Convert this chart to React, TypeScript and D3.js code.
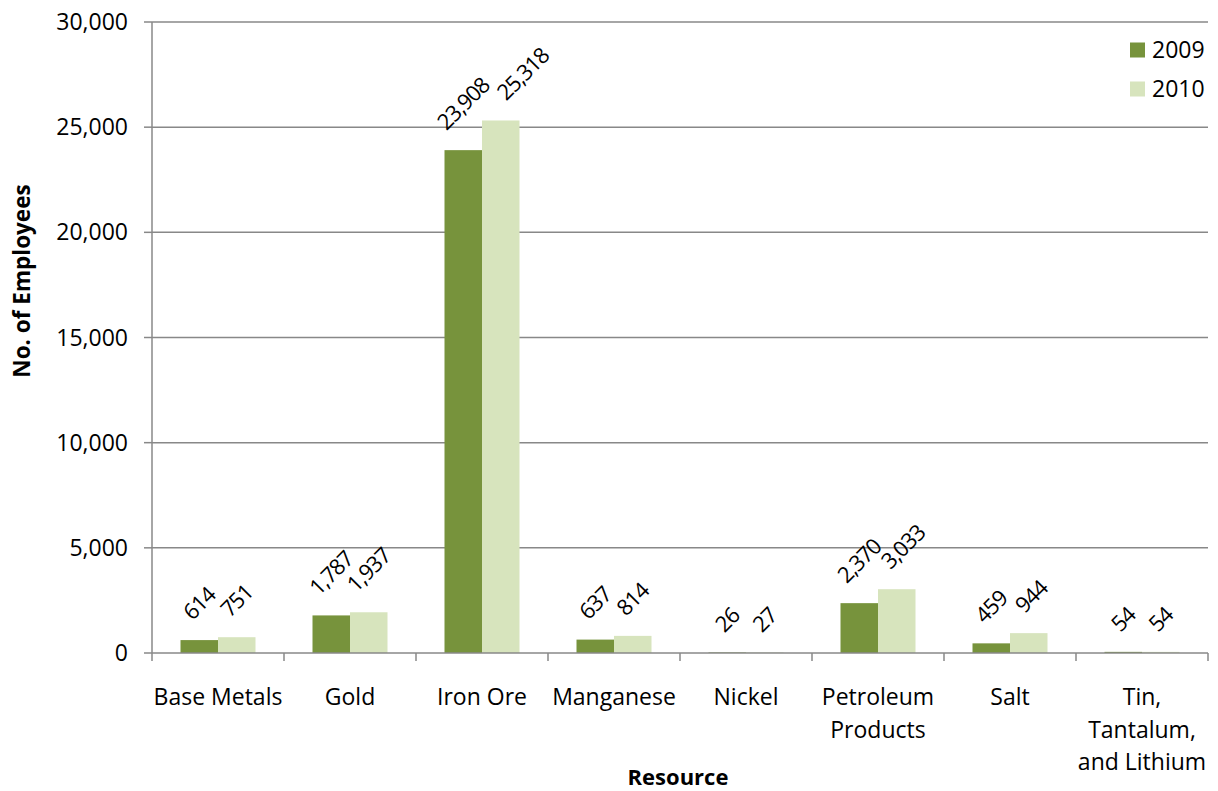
import React, { useEffect, useRef } from "react";
import * as d3 from "d3";

const categories = [
  "Base Metals",
  "Gold",
  "Iron Ore",
  "Manganese",
  "Nickel",
  "Petroleum Products",
  "Salt",
  "Tin, Tantalum, and Lithium",
];
const categoryLines = [
  ["Base Metals"],
  ["Gold"],
  ["Iron Ore"],
  ["Manganese"],
  ["Nickel"],
  ["Petroleum", "Products"],
  ["Salt"],
  ["Tin,", "Tantalum,", "and Lithium"],
];
const seriesNames = ["2009", "2010"];
const values2009 = [614, 1787, 23908, 637, 26, 2370, 459, 54];
const values2010 = [751, 1937, 25318, 814, 27, 3033, 944, 54];
const yTicks = [0, 5000, 10000, 15000, 20000, 25000, 30000];
const colors = ["#77933C", "#D7E4BD"];

const W = 1218;
const H = 791;
const FONT = "'Open Sans', sans-serif";
const FS = 23;

export default function App() {
  const ref = useRef<SVGSVGElement | null>(null);

  useEffect(() => {
    document.body.style.margin = "0";
    const svg = d3.select(ref.current);
    svg.selectAll("*").remove();

    const left = 152, right = 1208, top = 22, bottom = 653;
    const y = d3.scaleLinear().domain([0, 30000]).range([bottom, top]);
    const x0 = d3.scaleBand<string>().domain(categories).range([left, right]).paddingInner(0).paddingOuter(0);
    const x1 = d3.scaleBand<string>().domain(seriesNames).range([0, x0.bandwidth()]).paddingInner(0).paddingOuter(0.76);
    const fmt = d3.format(",");
    const grid = "#888888";

    // gridlines
    svg.append("g").selectAll("line").data(yTicks.filter((t) => t > 0)).join("line")
      .attr("x1", left).attr("x2", right)
      .attr("y1", (d) => y(d)).attr("y2", (d) => y(d))
      .attr("stroke", grid).attr("stroke-width", 1.5);

    // y axis line + ticks
    svg.append("line").attr("x1", left).attr("x2", left).attr("y1", top).attr("y2", bottom)
      .attr("stroke", grid).attr("stroke-width", 1.5);
    svg.append("g").selectAll("line").data(yTicks).join("line")
      .attr("x1", left - 8).attr("x2", left)
      .attr("y1", (d) => y(d)).attr("y2", (d) => y(d))
      .attr("stroke", grid).attr("stroke-width", 1.5);
    svg.append("g").selectAll("text").data(yTicks).join("text")
      .attr("x", 128).attr("y", (d) => y(d)).attr("dy", "0.35em")
      .attr("text-anchor", "end").attr("font-family", FONT).attr("font-size", FS).attr("fill", "#000")
      .text((d) => fmt(d));

    // bars
    const series = [values2009, values2010];
    const gBars = svg.append("g");
    series.forEach((vals, si) => {
      gBars.selectAll(`rect.s${si}`).data(vals).join("rect")
        .attr("class", `s${si}`)
        .attr("x", (_d, i) => (x0(categories[i]) as number) + (x1(seriesNames[si]) as number))
        .attr("width", x1.bandwidth())
        .attr("y", (d) => y(d))
        .attr("height", (d) => bottom - y(d))
        .attr("fill", colors[si]);
    });

    // x axis line + ticks
    svg.append("line").attr("x1", left).attr("x2", right).attr("y1", bottom).attr("y2", bottom)
      .attr("stroke", grid).attr("stroke-width", 1.5);
    const bounds = categories.map((c) => x0(c) as number).concat([right]);
    svg.append("g").selectAll("line").data(bounds).join("line")
      .attr("x1", (d) => d).attr("x2", (d) => d).attr("y1", bottom).attr("y2", bottom + 8)
      .attr("stroke", grid).attr("stroke-width", 1.5);

    // category labels
    categoryLines.forEach((lines, i) => {
      const cx = (x0(categories[i]) as number) + x0.bandwidth() / 2;
      lines.forEach((ln, li) => {
        svg.append("text").attr("x", cx).attr("y", 697 + li * 32.5).attr("dy", "0.35em")
          .attr("text-anchor", "middle").attr("font-family", FONT).attr("font-size", FS).attr("fill", "#000")
          .text(ln);
      });
    });

    // data labels (rotated -45°, shifted right when they would overlap the neighbour)
    const gLab = svg.append("g");
    const LFS = 22;
    const minSum = 30;
    categories.forEach((c, i) => {
      let prevSum: number | null = null;
      series.forEach((vals, si) => {
        const v = vals[i];
        let cx = (x0(c) as number) + (x1(seriesNames[si]) as number) + x1.bandwidth() / 2;
        const t = gLab.append("text")
          .attr("text-anchor", "middle").attr("dy", "0.35em")
          .attr("font-family", FONT).attr("font-size", LFS).attr("letter-spacing", -1).attr("fill", "#000")
          .text(fmt(v));
        const w = (t.node() as SVGTextElement).getComputedTextLength();
        const h = LFS * 0.75;
        const cy = y(v) - 18.5 - (w + h) / (2 * Math.SQRT2);
        if (prevSum !== null && cx + cy - prevSum < minSum) {
          cx += minSum - (cx + cy - prevSum);
        }
        prevSum = cx + cy;
        t.attr("transform", `translate(${cx},${cy}) rotate(-45)`);
      });
    });

    // axis titles
    svg.append("text").attr("transform", `translate(22,281) rotate(-90)`).attr("dy", "0.35em")
      .attr("text-anchor", "middle").attr("font-family", FONT).attr("font-size", 22.5).attr("font-weight", "bold")
      .text("No. of Employees");
    svg.append("text").attr("x", 678).attr("y", 777).attr("dy", "0.35em")
      .attr("text-anchor", "middle").attr("font-family", FONT).attr("font-size", 22).attr("font-weight", "bold")
      .text("Resource");

    // legend
    seriesNames.forEach((s, i) => {
      const ly = 50 + i * 39;
      svg.append("rect").attr("x", 1130).attr("y", ly - 7.5).attr("width", 15).attr("height", 15).attr("fill", colors[i]);
      svg.append("text").attr("x", 1152).attr("y", ly).attr("dy", "0.35em")
        .attr("font-family", FONT).attr("font-size", FS).attr("fill", "#000").text(s);
    });
  }, []);

  return <svg ref={ref} width={W} height={H} style={{ display: "block", background: "#fff" }} />;
}
